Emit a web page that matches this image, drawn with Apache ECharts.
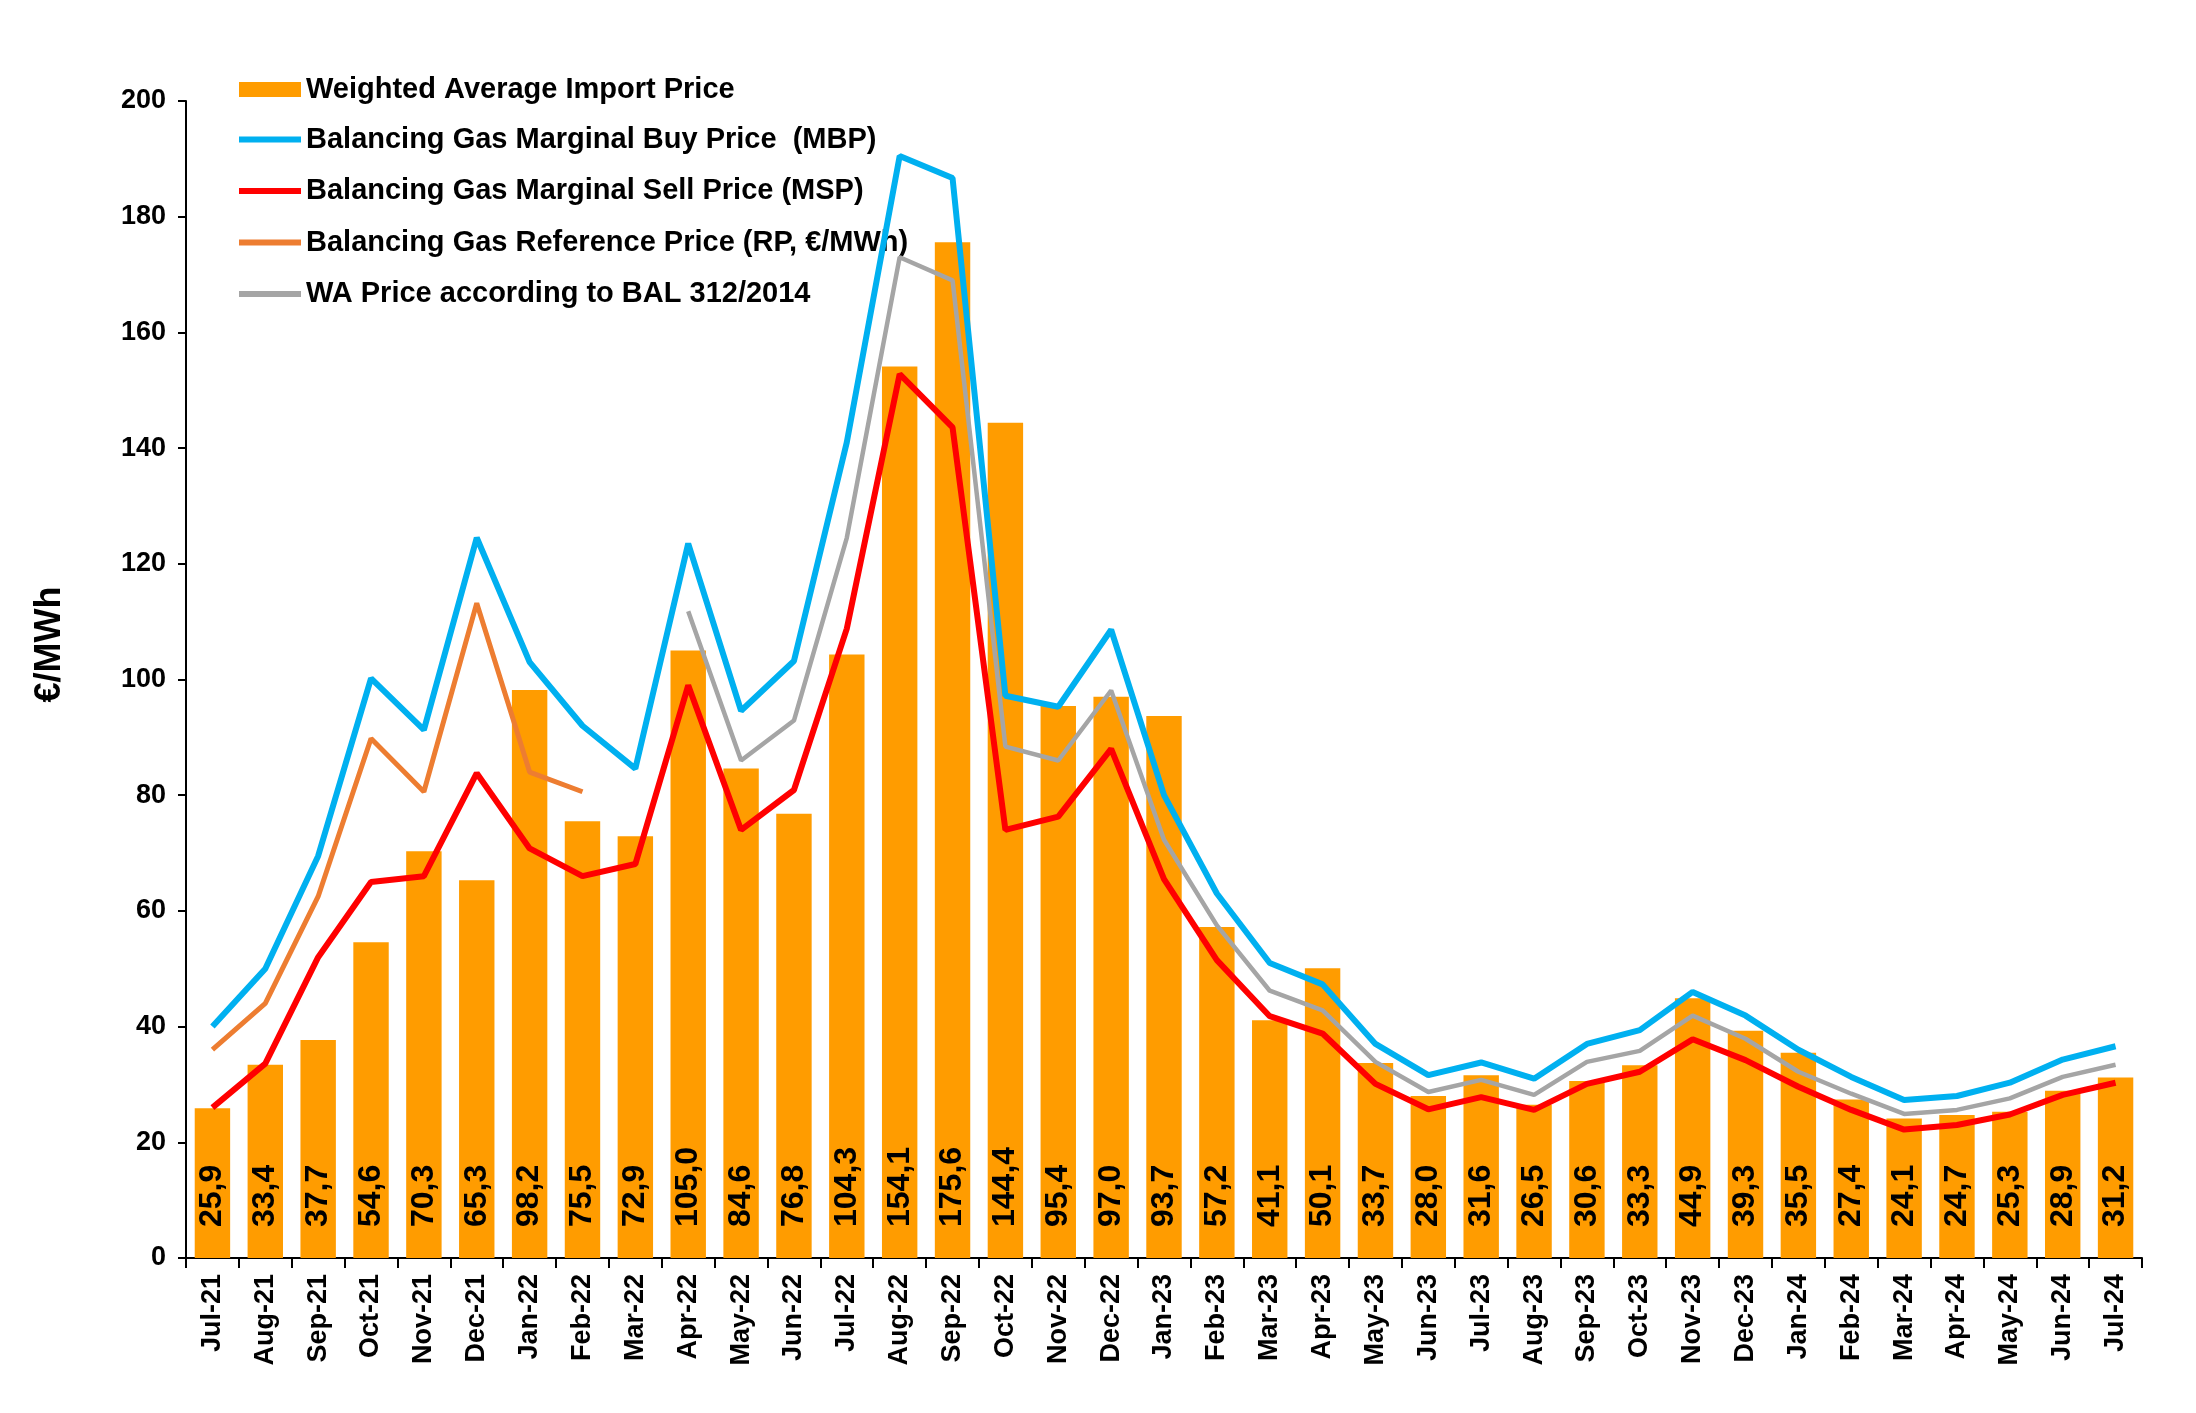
<!DOCTYPE html>
<html>
<head>
<meta charset="utf-8">
<script src="https://cdn.jsdelivr.net/npm/echarts@6/dist/echarts.min.js"></script>
<style>html,body{margin:0;padding:0;background:#fff}#c{width:2196px;height:1413px}</style>
</head>
<body>
<div id="c"></div>
<script>
const categories = ['Jul-21','Aug-21','Sep-21','Oct-21','Nov-21','Dec-21','Jan-22','Feb-22','Mar-22','Apr-22','May-22','Jun-22','Jul-22','Aug-22','Sep-22','Oct-22','Nov-22','Dec-22','Jan-23','Feb-23','Mar-23','Apr-23','May-23','Jun-23','Jul-23','Aug-23','Sep-23','Oct-23','Nov-23','Dec-23','Jan-24','Feb-24','Mar-24','Apr-24','May-24','Jun-24','Jul-24'];
const importPrice = [25.9,33.4,37.7,54.6,70.3,65.3,98.2,75.5,72.9,105.0,84.6,76.8,104.3,154.1,175.6,144.4,95.4,97.0,93.7,57.2,41.1,50.1,33.7,28.0,31.6,26.5,30.6,33.3,44.9,39.3,35.5,27.4,24.1,24.7,25.3,28.9,31.2];
const mbp = [40,50,69.5,100.2,91.3,124.5,103,92,84.6,123.5,94.6,103.2,141,190.5,186.7,97.2,95.3,108.6,80,63,51,47.3,37,31.6,33.8,31,37,39.4,46,41.9,36,31.3,27.3,28,30.3,34.3,36.6];
const msp = [26,33.6,52,65,66,83.8,70.8,66,68.1,99,74,80.9,108.8,152.8,143.6,74,76.3,88,65.5,51.5,41.8,38.8,30.1,25.7,27.8,25.6,30.1,32.2,37.8,34.2,29.6,25.6,22.2,23,24.8,28.2,30.3];
const rp = [36,44,62.5,89.8,80.6,113.2,84,80.6,null,null,null,null,null,null,null,null,null,null,null,null,null,null,null,null,null,null,null,null,null,null,null,null,null,null,null,null,null];
const waPrice = [null,null,null,null,null,null,null,null,null,111.8,86,92.9,124.5,173,169,88.4,86,98.1,72.3,57.5,46.2,42.8,33.9,28.7,30.8,28.2,33.9,35.8,41.9,37.9,32.2,28.4,24.9,25.6,27.6,31.3,33.4];
const yTicks = {min: 0, max: 200, interval: 20};

const FONT = '"Liberation Sans", Arial, sans-serif';
const chart = echarts.init(document.getElementById('c'));
const lineCommon = {type: 'line', symbol: 'none', connectNulls: false, z: 5};
const legendText = {fontFamily: FONT, fontWeight: 'bold', fontSize: 29, color: '#000'};
chart.setOption({
  animation: false,
  backgroundColor: '#ffffff',
  grid: {left: 186, right: 54, top: 101, bottom: 155},
  legend: [
    {
      orient: 'vertical', left: 234, top: 70, itemGap: 24,
      itemWidth: 62, itemHeight: 15, textStyle: legendText,
      data: [{name: 'Weighted Average Import Price', icon: 'rect'}]
    },
    {
      orient: 'vertical', left: 234, top: 120, itemGap: 22.5,
      itemWidth: 62, itemHeight: 6, textStyle: legendText,
      data: [
        {name: 'Balancing Gas Marginal Buy Price  (MBP)', icon: 'rect'},
        {name: 'Balancing Gas Marginal Sell Price (MSP)', icon: 'rect'},
        {name: 'Balancing Gas Reference Price (RP, €/MWh)', icon: 'rect'},
        {name: 'WA Price according to BAL 312/2014', icon: 'rect'}
      ]
    }
  ],
  xAxis: {
    type: 'category', data: categories, boundaryGap: true,
    axisLine: {lineStyle: {color: '#000', width: 2}},
    axisTick: {show: true, alignWithLabel: false, length: 10, lineStyle: {color: '#000', width: 2}},
    axisLabel: {rotate: 90, interval: 0, margin: 16, fontFamily: FONT, fontWeight: 'bold', fontSize: 27, color: '#000'}
  },
  yAxis: {
    type: 'value', min: yTicks.min, max: yTicks.max, interval: yTicks.interval,
    name: '€/MWh', nameLocation: 'middle', nameGap: 118,
    nameTextStyle: {fontFamily: FONT, fontWeight: 'bold', fontSize: 36, color: '#000', padding: [0, 0, 0, 70]},
    splitLine: {show: false},
    axisLine: {show: true, lineStyle: {color: '#000', width: 2}},
    axisTick: {show: true, length: 8, lineStyle: {color: '#000', width: 2}},
    axisLabel: {margin: 20, fontFamily: FONT, fontWeight: 'bold', fontSize: 27, color: '#000'}
  },
  series: [
    {
      name: 'Weighted Average Import Price', type: 'bar', data: importPrice, barWidth: '67%',
      itemStyle: {color: '#FF9C00'}, z: 2,
      label: {
        show: true, position: 'insideBottom', rotate: 90, align: 'left', verticalAlign: 'middle', distance: 31,
        fontFamily: FONT, fontWeight: 'bold', fontSize: 32, color: '#000',
        formatter: p => p.value.toFixed(1).replace('.', ',')
      }
    },
    Object.assign({name: 'Balancing Gas Marginal Buy Price  (MBP)', data: mbp, itemStyle: {color: '#00B0F0'}, lineStyle: {color: '#00B0F0', width: 6}}, lineCommon),
    Object.assign({name: 'Balancing Gas Marginal Sell Price (MSP)', data: msp, itemStyle: {color: '#FF0000'}, lineStyle: {color: '#FF0000', width: 6}}, lineCommon),
    Object.assign({name: 'Balancing Gas Reference Price (RP, €/MWh)', data: rp, itemStyle: {color: '#ED7D31'}, lineStyle: {color: '#ED7D31', width: 5}}, lineCommon),
    Object.assign({name: 'WA Price according to BAL 312/2014', data: waPrice, itemStyle: {color: '#A5A5A5'}, lineStyle: {color: '#A5A5A5', width: 4.5}}, lineCommon)
  ]
});
</script>
</body>
</html>
